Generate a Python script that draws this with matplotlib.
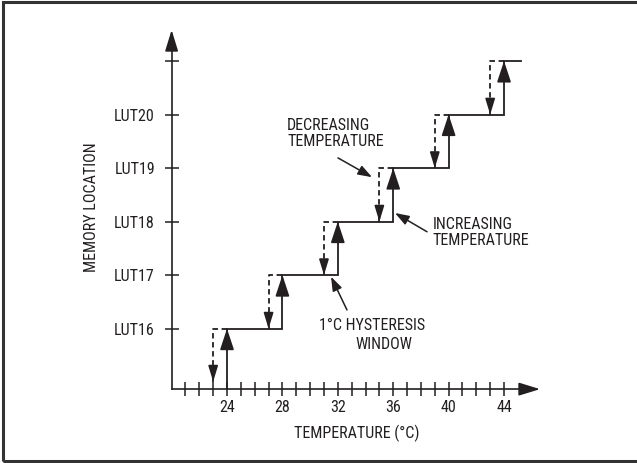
import matplotlib
matplotlib.use("Agg")
import matplotlib.pyplot as plt
from matplotlib.patches import ArrowStyle, Rectangle

# chart values
rise_temps = [24, 28, 32, 36, 40, 44]     # solid steps, increasing temperature
fall_temps = [23, 27, 31, 35, 39, 43]     # dashed steps, decreasing temperature
levels = [16, 17, 18, 19, 20, 21]         # LUT16 .. LUT21
end_temp = 45.2
baseline = 14.87

x_major = [24, 28, 32, 36, 40, 44]
x_minor = [t for t in range(21, 45) if t not in x_major]
y_ticks = [16, 17, 18, 19, 20, 21]
y_labels = ["LUT16", "LUT17", "LUT18", "LUT19", "LUT20", ""]

INK = "#231f20"
FONT = ["Liberation Sans Narrow", "DejaVu Sans Condensed", "Roboto Condensed",
        "Roboto", "DejaVu Sans"]
FS = 11.5


def head(ax, tip, tail, length, width, lw=1.2):
    # filled arrow head only, short stem hidden under it
    style = ArrowStyle("-|>", head_length=length, head_width=width)
    ax.annotate("", xy=tip, xytext=tail,
                arrowprops=dict(arrowstyle=style, mutation_scale=1, color=INK,
                                lw=lw, shrinkA=0, shrinkB=0))


def draw_chart():
    plt.rcParams['font.family'] = FONT
    plt.rcParams['font.stretch'] = 'condensed'
    fig = plt.figure(figsize=(6.37, 4.63), dpi=100)
    ax = fig.add_axes([0, 0, 1, 1])
    ax.set_xlim(7.61, 53.6)
    ax.set_ylim(13.49, 22.14)
    ax.patch.set_alpha(0)

    # axes as arrows
    for s in ["top", "right"]:
        ax.spines[s].set_visible(False)
    ax.spines["left"].set_position(("data", 20))
    ax.spines["bottom"].set_position(("data", baseline))
    ax.spines["left"].set_bounds(baseline, 21.4)
    ax.spines["bottom"].set_bounds(20, 46.3)
    for s in ["left", "bottom"]:
        ax.spines[s].set_color(INK)
        ax.spines[s].set_linewidth(1.2)
    head(ax, (20, 21.58), (20, 21.2), 13, 4)
    head(ax, (46.6, baseline), (45.6, baseline), 13, 4)

    ax.set_xticks(x_major)
    ax.set_xticks(x_minor, minor=True)
    ax.set_xticklabels([str(t) for t in x_major])
    ax.set_yticks(y_ticks)
    ax.set_yticklabels(y_labels)
    ax.tick_params(which="both", direction="inout", length=10, width=1.1,
                   color=INK, labelcolor=INK, labelsize=FS)
    ax.tick_params(axis="x", pad=3)
    ax.tick_params(axis="y", pad=7)

    # solid staircase
    xs, ys = [rise_temps[0]], [baseline]
    for i, t in enumerate(rise_temps):
        nxt = rise_temps[i + 1] if i + 1 < len(rise_temps) else end_temp
        xs += [t, nxt]
        ys += [levels[i], levels[i]]
    ax.plot(xs, ys, color=INK, lw=1.3, solid_joinstyle="miter")
    for i, t in enumerate(rise_temps):
        head(ax, (t, levels[i]), (t, levels[i] - 0.2), 13, 4.3)

    # dashed staircase
    for i, t in enumerate(fall_temps):
        top = levels[i]
        bottom = levels[i - 1] if i > 0 else baseline + 0.14
        ax.plot([rise_temps[i], t, t], [top, top, bottom], color=INK, lw=1.3,
                dashes=(3, 2))
        head(ax, (t, bottom), (t, bottom + 0.15), 9.5, 2.9)

    # labels
    kw = dict(color=INK, fontsize=FS)
    ax.text(33.35, 14.05, "TEMPERATURE (°C)", ha="center", va="center", **kw)
    ax.text(14.25, 18.27, "MEMORY LOCATION", ha="center", va="center",
            rotation=90, **kw)
    ax.text(28.33, 19.64, "DECREASING\nTEMPERATURE", ha="left", va="center",
            linespacing=1.1, **kw)
    ax.text(38.87, 17.80, "INCREASING\nTEMPERATURE", ha="left", va="center",
            linespacing=1.1, **kw)
    ax.text(30.64, 16.05, "1°C HYSTERESIS", ha="left", va="center", **kw)
    ax.text(33.24, 15.70, "WINDOW", ha="left", va="center", **kw)

    # pointer arrows
    style = ArrowStyle("-|>", head_length=8.5, head_width=3)
    for tip, tail in [((34.47, 18.83), (32.01, 19.19)),
                      ((36.13, 18.16), (38.44, 17.81)),
                      ((31.51, 16.97), (32.66, 16.35))]:
        ax.annotate("", xy=tip, xytext=tail,
                    arrowprops=dict(arrowstyle=style, mutation_scale=1,
                                    color=INK, lw=1.1, shrinkA=0, shrinkB=0))

    # outer frame, right edge falls off the picture
    fig.patches.append(Rectangle((0.004, 0.005), 1.2, 0.991, fill=False,
                                 transform=fig.transFigure, lw=2.2,
                                 edgecolor="#333333"))
    fig.savefig("out.png", dpi=100)


if __name__ == "__main__":
    draw_chart()
